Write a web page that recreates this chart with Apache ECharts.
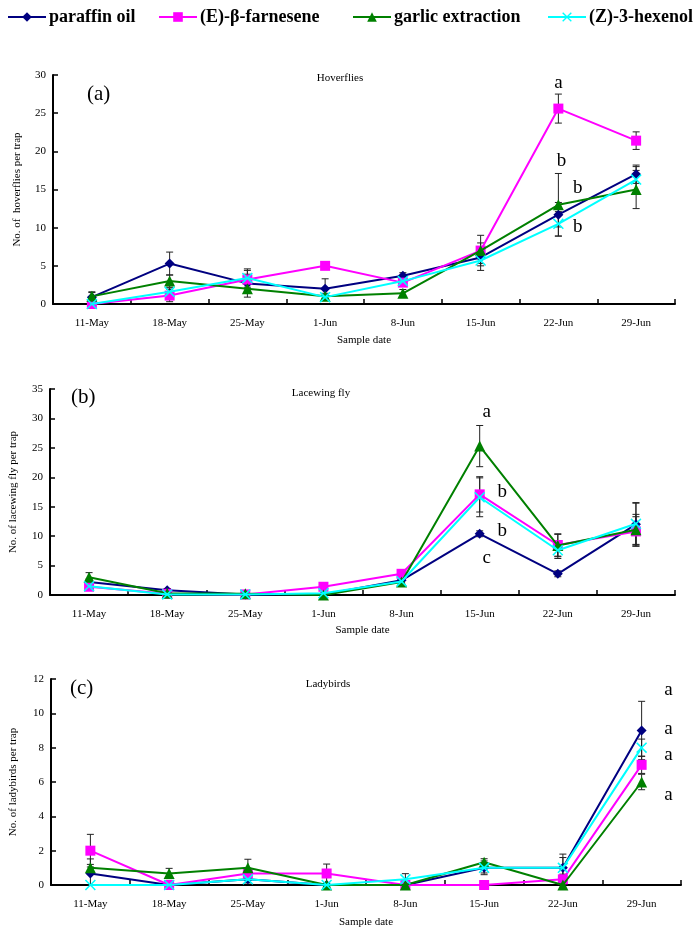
<!DOCTYPE html>
<html><head><meta charset="utf-8">
<script src="https://cdn.jsdelivr.net/npm/echarts@6/dist/echarts.min.js"></script>
<style>html,body{margin:0;padding:0;background:#fff}#c{width:700px;height:929px}</style>
</head><body><div id="c"></div>
<script>
const categories = ['11-May','18-May','25-May','1-Jun','8-Jun','15-Jun','22-Jun','29-Jun'];
const seriesNames = ['paraffin oil','(E)-β-farnesene','garlic extraction','(Z)-3-hexenol'];

// Panel (a) Hoverflies: means and standard errors
const hoverParaffin   = [0.9, 5.3, 2.7, 2.0, 3.7, 6.1, 11.7, 17.0];
const hoverParaffinSE = [0.6, 1.5, 1.2, 1.3, 0.4, 0.8, 1.6, 1.2];
const hoverFarnesene   = [0, 1.1, 3.2, 5.0, 2.8, 7.0, 25.6, 21.4];
const hoverFarneseneSE = [0, 0.8, 1.2, 0, 0.3, 1.0, 1.9, 1.15];
const hoverGarlic   = [1.0, 3.0, 2.0, 1.0, 1.4, 7.0, 13.0, 15.0];
const hoverGarlicSE = [0.6, 0.8, 1.1, 0.4, 0.5, 2.0, 4.1, 2.5];
const hoverHexenol   = [0, 1.6, 3.4, 0.9, 3.0, 5.7, 10.5, 16.3];
const hoverHexenolSE = [0, 0.5, 1.2, 0.3, 0.4, 1.3, 1.6, 1.7];

// Panel (b) Lacewing fly
const laceParaffin   = [2.2, 0.8, 0.1, 0.1, 2.5, 10.4, 3.6, 12.0];
const laceParaffinSE = [0.5, 0.3, 0, 0, 0.3, 0.5, 0.5, 3.7];
const laceFarnesene   = [1.4, 0.2, 0.1, 1.4, 3.6, 17.1, 8.5, 10.8];
const laceFarneseneSE = [0.5, 0, 0, 0.3, 0.3, 3.0, 1.9, 2.5];
const laceGarlic   = [3.0, 0.3, 0.2, 0, 2.2, 25.3, 8.4, 11.1];
const laceGarlicSE = [0.8, 0, 0, 0, 0.3, 3.5, 1.9, 2.6];
const laceHexenol   = [1.5, 0.1, 0.1, 0.3, 2.3, 16.6, 7.6, 12.1];
const laceHexenolSE = [0.5, 0, 0, 0, 0.3, 3.3, 1.4, 3.5];

// Panel (c) Ladybirds
const ladyParaffin   = [0.67, 0, 0.33, 0, 0, 1.0, 1.0, 9.0];
const ladyParaffinSE = [0.85, 0, 0.2, 0, 0, 0.4, 0.8, 1.7];
const ladyFarnesene   = [2.0, 0, 0.67, 0.67, 0, 0, 0.33, 7.0];
const ladyFarneseneSE = [0.95, 0, 0.3, 0.55, 0, 0, 0.3, 0.5];
const ladyGarlic   = [1.0, 0.67, 1.0, 0, 0, 1.33, 0, 6.0];
const ladyGarlicSE = [0.2, 0.3, 0.5, 0, 0, 0.2, 0, 0.45];
const ladyHexenol   = [0, 0, 0.33, 0, 0.33, 1.0, 1.0, 8.0];
const ladyHexenolSE = [0, 0, 0.2, 0, 0.33, 0.3, 0.6, 0.5];

// Significance letters: [fractional category index, value, letter]
const lettersA = [[6.0, 29.0, 'a'], [6.04, 18.7, 'b'], [6.25, 15.2, 'b'], [6.25, 10.1, 'b']];
const lettersB = [[5.09, 31.1, 'a'], [5.29, 17.5, 'b'], [5.29, 10.9, 'b'], [5.09, 6.3, 'c']];
const lettersC = [[7.34, 11.36, 'a'], [7.34, 9.1, 'a'], [7.34, 7.6, 'a'], [7.34, 5.25, 'a']];

const yTicksA = {min: 0, max: 30, interval: 5};
const yTicksB = {min: 0, max: 35, interval: 5};
const yTicksC = {min: 0, max: 12, interval: 2};
const panelTitles = ['Hoverflies', 'Lacewing fly', 'Ladybirds'];
const yNames = ['No. of  hoverflies per trap', 'No. of lacewing fly per trap', 'No. of ladybirds per trap'];
const panelTags = ['(a)', '(b)', '(c)'];

const FONT = '"Liberation Serif", "Times New Roman", serif';
const colors = ['#000080', '#FF00FF', '#008000', '#00FFFF'];
const crossPath = 'path://M0,1 L1,0 L5,4 L9,0 L10,1 L6,5 L10,9 L9,10 L5,6 L1,10 L0,9 L4,5 Z';
const symbols = ['diamond', 'rect', 'triangle', crossPath];
const symbolSizes = [10, 10, 11, 11];

const panels = [
  {means: [hoverParaffin, hoverFarnesene, hoverGarlic, hoverHexenol],
   ses: [hoverParaffinSE, hoverFarneseneSE, hoverGarlicSE, hoverHexenolSE],
   letters: lettersA, ticks: yTicksA,
   grid: {left: 53, top: 75, width: 622, height: 229}, yGap: 30, xGap: 31, tagPos: [87, 84], titlePos: [340, 78]},
  {means: [laceParaffin, laceFarnesene, laceGarlic, laceHexenol],
   ses: [laceParaffinSE, laceFarneseneSE, laceGarlicSE, laceHexenolSE],
   letters: lettersB, ticks: yTicksB,
   grid: {left: 48, top: 389, width: 627, height: 206}, yGap: 31, xGap: 30, tagPos: [71, 387], titlePos: [321, 393]},
  {means: [ladyParaffin, ladyFarnesene, ladyGarlic, ladyHexenol],
   ses: [ladyParaffinSE, ladyFarneseneSE, ladyGarlicSE, ladyHexenolSE],
   letters: lettersC, ticks: yTicksC,
   grid: {left: 45, top: 679, width: 636, height: 206}, yGap: 32, xGap: 32, tagPos: [70, 678], titlePos: [328, 684]}
];

const grids = [], xAxes = [], yAxes = [], series = [], graphics = [];
panels.forEach((p, pi) => {
  grids.push(Object.assign({containLabel: false}, p.grid));
  xAxes.push({
    type: 'category', gridIndex: pi, data: categories, boundaryGap: true,
    name: 'Sample date', nameLocation: 'middle', nameGap: p.xGap,
    nameTextStyle: {fontFamily: FONT, fontSize: 11, color: '#000'},
    axisLine: {lineStyle: {color: '#000', width: 2}},
    axisTick: {show: true, inside: true, length: 5, lineStyle: {color: '#000', width: 1.5}},
    axisLabel: {fontFamily: FONT, fontSize: 11, color: '#000', margin: 14, interval: 0},
    splitLine: {show: false}
  });
  yAxes.push(Object.assign({
    type: 'value', gridIndex: pi,
    name: yNames[pi], nameLocation: 'middle', nameGap: p.yGap, nameRotate: 90,
    nameTextStyle: {fontFamily: FONT, fontSize: 11, color: '#000'},
    axisLine: {show: true, lineStyle: {color: '#000', width: 2}},
    axisTick: {show: true, inside: true, length: 5, lineStyle: {color: '#000', width: 1.5}},
    axisLabel: {fontFamily: FONT, fontSize: 11, color: '#000', margin: 7},
    splitLine: {show: false}
  }, p.ticks));
  // error bars
  p.means.forEach((m, si) => {
    series.push({
      type: 'custom', xAxisIndex: pi, yAxisIndex: pi, z: 1, silent: true,
      data: m.map((v, i) => [i, v, p.ses[si][i]]),
      encode: {x: 0, y: 1},
      renderItem: function (params, api) {
        const x = api.value(0), y = api.value(1), e = api.value(2);
        if (!(e > 0)) return null;
        const top = api.coord([x, y + e]);
        const bot = api.coord([x, Math.max(0, y - e)]);
        const w = 3.5;
        const st = {stroke: '#222', lineWidth: 1};
        return {type: 'group', children: [
          {type: 'line', shape: {x1: top[0], y1: top[1], x2: bot[0], y2: bot[1]}, style: st},
          {type: 'line', shape: {x1: top[0] - w, y1: top[1], x2: top[0] + w, y2: top[1]}, style: st},
          {type: 'line', shape: {x1: bot[0] - w, y1: bot[1], x2: bot[0] + w, y2: bot[1]}, style: st}
        ]};
      }
    });
  });
  p.means.forEach((m, si) => {
    series.push({
      type: 'line', name: seriesNames[si], xAxisIndex: pi, yAxisIndex: pi, z: 3 + si,
      data: m, symbol: symbols[si], symbolSize: symbolSizes[si], showAllSymbol: true,
      lineStyle: {color: colors[si], width: 2}, itemStyle: {color: colors[si]},
      animation: false
    });
  });
  // significance letters
  const L = p.letters;
  series.push({
    type: 'custom', xAxisIndex: pi, yAxisIndex: pi, z: 10, silent: true,
    data: L.map(d => [Math.floor(d[0]), d[1]]),
    encode: {x: 0, y: 1},
    renderItem: function (params, api) {
      const d = L[params.dataIndex];
      const base = api.coord([Math.floor(d[0]), d[1]]);
      const band = api.size([1, 0])[0];
      return {type: 'text', x: base[0] + (d[0] - Math.floor(d[0])) * band, y: base[1],
        style: {text: d[2], fontFamily: FONT, fontSize: 19, fill: '#000', align: 'center', verticalAlign: 'middle'}};
    }
  });
  graphics.push({type: 'text', x: p.tagPos[0], y: p.tagPos[1],
    style: {text: panelTags[pi], fontFamily: FONT, fontSize: 21, fill: '#000'}});
  graphics.push({type: 'text', x: p.titlePos[0], y: p.titlePos[1],
    style: {text: panelTitles[pi], fontFamily: FONT, fontSize: 11, fill: '#000', align: 'center', verticalAlign: 'middle'}});
});

const legendLefts = [2, 153, 347, 542];
const legends = seriesNames.map((n, i) => ({
  data: [n], left: legendLefts[i], top: 3, itemWidth: 38, itemHeight: 12, itemGap: 4,
  textStyle: {fontFamily: FONT, fontSize: 18, fontWeight: 'bold', color: '#000', padding: [0, 0, 0, -2]},
  selectedMode: false
}));

const chart = echarts.init(document.getElementById('c'), null, {renderer: 'canvas'});
chart.setOption({
  animation: false,
  backgroundColor: '#fff',
  legend: legends,
  grid: grids, xAxis: xAxes, yAxis: yAxes, series: series, graphic: graphics
});
</script></body></html>
